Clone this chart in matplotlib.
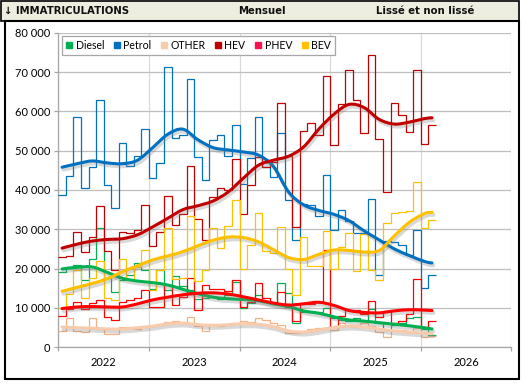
import numpy as np
import matplotlib
matplotlib.use('Agg')
import matplotlib.pyplot as plt
from matplotlib.path import Path
from matplotlib.patches import PathPatch, Rectangle
from matplotlib.lines import Line2D
import matplotlib.patheffects as pe

# Monthly registrations, Jan 2022 .. Feb 2026 (thousands)
diesel = [19.0, 20.5, 21.0, 17.0, 22.3, 30.2, 17.5, 14.0, 17.0, 18.3, 21.5, 19.5,
          14.8, 19.7, 14.6, 18.0, 15.5, 14.5, 12.3, 12.5, 12.7, 12.3, 13.2, 16.5,
          9.9, 11.1, 13.2, 11.5, 11.3, 16.2, 13.7, 6.0, 9.0, 9.0, 9.0, 9.9,
          7.5, 7.0, 6.5, 7.5, 6.5, 9.7, 6.0, 4.3, 5.5, 6.0, 7.3, 7.7,
          4.5, 3.0]
petrol = [38.6, 43.6, 58.5, 40.6, 45.8, 63.0, 41.2, 35.5, 52.0, 46.0, 48.6, 55.6,
          43.1, 47.0, 71.4, 53.3, 54.1, 68.4, 48.3, 42.6, 52.8, 54.1, 48.7, 56.6,
          41.6, 48.1, 58.6, 45.9, 43.4, 54.4, 37.5, 27.3, 36.4, 36.2, 33.4, 43.7,
          29.9, 35.0, 32.0, 29.0, 29.0, 37.6, 18.3, 27.0, 26.7, 25.9, 23.4, 29.9,
          15.1, 18.3]
other = [4.1, 7.5, 4.1, 3.9, 7.5, 4.6, 3.2, 3.2, 5.2, 5.2, 4.6, 5.4,
         5.4, 5.5, 6.3, 6.5, 6.0, 7.6, 5.4, 4.1, 5.8, 5.4, 5.6, 6.2,
         6.5, 6.3, 7.3, 6.9, 6.2, 5.6, 3.5, 3.5, 3.9, 4.5, 4.8, 4.9,
         4.3, 6.0, 5.6, 5.2, 6.2, 5.4, 3.7, 2.5, 4.3, 4.3, 3.9, 4.8,
         2.5, 2.8]
hev = [23.0, 23.2, 29.2, 24.2, 28.1, 36.0, 24.5, 19.5, 29.4, 29.1, 29.7, 36.3,
       25.8, 29.2, 38.4, 31.0, 34.0, 46.0, 32.7, 27.2, 38.3, 40.4, 39.9, 48.0,
       34.0, 41.2, 48.5, 45.8, 47.1, 62.2, 48.6, 30.5, 55.0, 57.0, 54.0, 69.0,
       51.4, 62.0, 70.6, 63.0, 54.5, 74.3, 53.1, 39.6, 62.2, 59.2, 54.9, 70.5,
       51.6, 56.5]
phev = [7.9, 9.8, 11.5, 9.8, 11.1, 11.9, 7.7, 6.9, 11.5, 11.9, 12.4, 14.5,
        10.2, 10.3, 15.8, 10.7, 12.8, 17.6, 9.4, 15.8, 14.9, 14.7, 14.3, 17.0,
        10.3, 11.5, 16.2, 12.4, 11.1, 14.1, 10.3, 6.5, 11.1, 11.0, 11.5, 24.7,
        5.2, 8.0, 9.4, 9.4, 8.5, 11.8, 7.7, 9.2, 6.0, 6.5, 8.5, 17.2,
        5.2, 6.6]
bev = [10.0, 13.4, 19.7, 12.6, 17.5, 21.9, 12.6, 12.1, 22.3, 17.0, 20.3, 24.8,
       14.5, 19.6, 30.3, 17.2, 17.5, 33.3, 16.9, 19.6, 30.2, 25.3, 30.8, 37.4,
       20.0, 26.0, 34.1, 24.5, 23.9, 30.5, 20.0, 13.2, 28.1, 20.6, 20.6, 29.6,
       19.8, 25.5, 29.1, 19.4, 28.7, 19.6, 17.1, 31.5, 34.1, 34.5, 34.7, 42.0,
       30.2, 32.4]

# Smoothed curves read at these months (index 0 = Jan 2022)
smooth_months = [0, 2, 4, 6, 8, 10, 12, 14, 16, 18, 20, 22, 24,
                 26, 28, 30, 32, 34, 36, 38, 40, 42, 44, 46, 48, 49]
diesel_s = [19.9, 20.3, 20.4, 19.0, 17.5, 16.8, 16.4, 15.8, 14.7, 13.6, 12.7, 12.3, 12.1,
            11.8, 11.0, 10.3, 9.2, 8.6, 7.7, 6.9, 6.6, 6.2, 5.8, 5.4, 4.9, 4.6]
petrol_s = [45.8, 46.7, 47.4, 46.9, 46.7, 47.6, 50.8, 54.2, 55.5, 52.8, 50.8, 50.2, 49.7,
            48.9, 46.0, 39.5, 36.2, 34.8, 33.8, 32.2, 29.6, 27.3, 25.0, 23.3, 21.8, 21.4]
other_s = [5.1, 4.9, 4.8, 4.6, 4.6, 4.9, 5.3, 5.9, 6.1, 5.7, 5.5, 5.7, 5.9,
           5.8, 5.2, 4.1, 3.8, 4.3, 5.0, 5.3, 5.1, 4.6, 4.1, 3.8, 3.5, 3.4]
hev_s = [25.2, 26.2, 27.0, 27.4, 27.6, 28.6, 30.6, 32.8, 35.0, 36.0, 37.2, 39.5, 43.0,
         46.3, 47.6, 48.6, 51.0, 55.5, 59.3, 61.8, 61.0, 58.0, 56.8, 57.3, 58.2, 58.4]
phev_s = [9.8, 10.2, 10.3, 10.2, 10.2, 11.0, 12.0, 12.7, 13.3, 13.7, 13.8, 13.5, 12.8,
          12.0, 11.2, 10.7, 11.0, 11.4, 10.6, 9.3, 8.8, 8.7, 9.2, 9.5, 9.4, 9.3]
bev_s = [14.2, 15.2, 16.2, 17.4, 19.2, 20.7, 22.2, 23.2, 24.3, 25.8, 27.2, 28.0, 27.9,
         26.8, 24.8, 22.8, 22.3, 23.6, 24.7, 24.6, 24.2, 24.6, 28.3, 31.8, 34.0, 34.3]

years = ['2022', '2023', '2024', '2025', '2026']
labels = ['Diesel', 'Petrol', 'OTHER', 'HEV', 'PHEV', 'BEV']
colors = ['#00B050', '#0070C0', '#F4B183', '#C00000', '#FF0000', '#FFC000']
smooth_colors = ['#00B050', '#0070C0', '#F8CBAD', '#C00000', '#FF0000', '#FFC000']
legend_colors = ['#00B050', '#0070C0', '#F8CBAD', '#C00000', '#FF1050', '#FFC000']


def smooth_path(xs, ys):
    # Excel-like smoothed line: cubic bezier through the read points
    pts = np.column_stack([xs, ys])
    n = len(pts)
    verts = [pts[0]]
    codes = [Path.MOVETO]
    for i in range(n - 1):
        p0 = pts[max(i - 1, 0)]
        p1 = pts[i]
        p2 = pts[i + 1]
        p3 = pts[min(i + 2, n - 1)]
        verts += [p1 + (p2 - p0) / 6, p2 - (p3 - p1) / 6, p2]
        codes += [Path.CURVE4] * 3
    return Path(verts, codes)


W, H = 530, 384
fig = plt.figure(figsize=(W / 100, H / 100), dpi=100)
ax = fig.add_axes([58.3 / W, 1 - 347 / H, 453 / W, 314 / H])

# frames and title bar
fig.add_artist(Rectangle((1 / W, 1 - 21 / H), 518 / W, 20 / H, transform=fig.transFigure,
                         fc='#EDEEDF', ec='black', lw=1.2))
fig.add_artist(Rectangle((5 / W, 1 - 379 / H), 514 / W, 358 / H, transform=fig.transFigure,
                         fill=False, ec='black', lw=1.5))
title_kw = dict(va='center', fontsize=7.3, fontweight='bold', color='#111111',
                family=['DejaVu Sans'])
fig.text(4 / W, 1 - 11 / H, '\u2193 IMMATRICULATIONS', ha='left', **title_kw)
fig.text(262 / W, 1 - 11 / H, 'Mensuel', ha='center', **title_kw)
fig.text(376 / W, 1 - 11 / H, 'Lissé et non lissé', ha='left', **title_kw)

raw = [diesel, petrol, other, hev, phev, bev]
smooth = [diesel_s, petrol_s, other_s, hev_s, phev_s, bev_s]
edges = np.arange(len(diesel) + 1)
for vals, c in zip(raw, colors):
    ax.stairs(np.array(vals) * 1000, edges, baseline=None, color=c, lw=0.9, zorder=3)

sx = np.array(smooth_months) + 0.5
for vals, c in zip(smooth, smooth_colors):
    path = smooth_path(sx, np.array(vals) * 1000)
    patch = PathPatch(path, fill=False, ec=c, lw=2.2, capstyle='round', zorder=4,
                      path_effects=[pe.SimpleLineShadow(offset=(1.0, -1.8), shadow_color='#808080',
                                                        alpha=0.3, linewidth=2.8),
                                    pe.Normal()])
    ax.add_patch(patch)

ax.set_xlim(0, 60)
ax.set_ylim(0, 80000)
ax.set_xticks(np.arange(0, 61, 12))
ax.set_xticks(np.arange(6, 60, 12), minor=True)
ax.set_xticklabels([])
ax.set_xticklabels(years, minor=True)
ax.set_yticks(np.arange(0, 80001, 10000))
ax.set_yticklabels([f'{v:,}'.replace(',', ' ') for v in range(0, 80001, 10000)])

ax.grid(axis='y', color='#BFBFBF', lw=0.9, zorder=0)
ax.grid(axis='x', which='major', color='#D9D9D9', lw=0.9, zorder=0)
for s in ['top', 'right']:
    ax.spines[s].set_visible(False)
for s in ['left', 'bottom']:
    ax.spines[s].set_color('#A6A6A6')
    ax.spines[s].set_linewidth(0.9)
ax.tick_params(axis='both', which='major', colors='#A6A6A6', length=3, width=0.9,
               labelcolor='black', labelsize=8)
ax.tick_params(axis='y', pad=3)
ax.tick_params(axis='x', which='minor', length=0, pad=7, labelsize=8)
for t in ax.get_xticklabels(minor=True) + ax.get_yticklabels():
    t.set_family('Lato')

handles = [Line2D([], [], ls='none', marker='s', markersize=5, color=c, mec=c)
           for c in legend_colors]
leg = ax.legend(handles, labels, ncol=6, loc='upper left', bbox_to_anchor=(0.008, 0.99),
                borderaxespad=0, fancybox=False, edgecolor='#A6A6A6', framealpha=1,
                prop={'family': 'Lato', 'size': 7.6}, handlelength=0.7, handletextpad=0.25,
                columnspacing=0.85, borderpad=0.35)
leg.get_frame().set_linewidth(0.9)
leg.set_zorder(6)

fig.savefig('out.png', dpi=100)
